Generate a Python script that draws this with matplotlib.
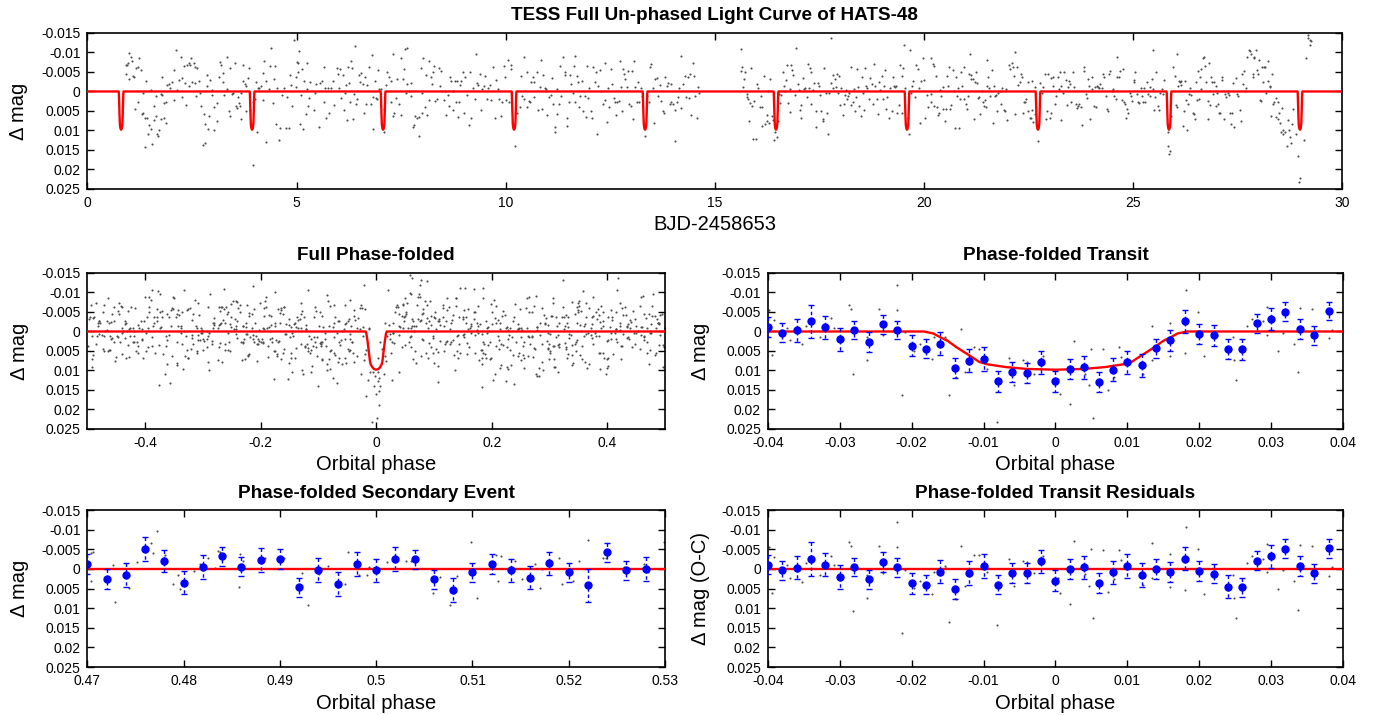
import matplotlib
matplotlib.use("Agg")
import matplotlib.pyplot as plt
from matplotlib.ticker import FuncFormatter, MultipleLocator
import numpy as np

plt.rcParams['font.family'] = ['Liberation Sans', 'DejaVu Sans']

T0 = 0.805
PERIOD = 3.1322

# ---- transit model, half curve (phase offset, depth in mag)
model_dphase = [0.0, 0.004, 0.007, 0.0095, 0.0106, 0.012, 0.0138, 0.015, 0.016, 0.017, 0.0183]
model_depth = [0.0098, 0.0096, 0.0091, 0.0084, 0.0078, 0.0061, 0.0040, 0.0024, 0.0015, 0.0005, 0.0]

# ---- TESS light curve (BJD-2458653, delta mag in mmag)
lc_a = [(0.99,-9.9),(1.04,-8.8),(1.07,-7.8),(0.92,-6.7),(0.95,-6.7),(0.97,-7.4),(1.24,-8.7),(1.17,-5.9),(1.20,-6.2),(1.28,-5.6),
        (0.93,-4.6),(1.00,-3.3),(1.10,-4.0),(1.12,-3.8),(1.40,-2.7),(1.32,0.3),(1.52,-0.3),(1.21,2.6),(1.13,4.4),(1.30,5.8),
        (1.34,5.6),(1.38,6.8),(1.43,6.9),(1.48,8.5),(1.52,9.7),(1.45,11.0),(1.38,14.3),(1.55,13.5),(1.60,3.8),(1.63,6.2),
        (1.59,7.3),(1.65,1.1),(1.67,10.8),(1.71,9.8),(1.69,11.4),(1.75,0.7),(1.79,0.9),(1.77,7.1),(1.83,2.9),(1.84,6.7),
        (1.87,8.0),(1.89,2.6),(1.78,-3.7),(1.91,-1.7),(1.94,-2.0),(1.97,-1.0),(2.02,-2.4),(2.11,-10.7),(2.08,-5.4),(2.13,-0.3),
        (2.06,2.1),(2.18,-2.9),(2.24,-8.8),(2.27,-3.5),(2.30,-6.6),(2.26,1.5),(2.36,3.5),(2.34,-2.2),(2.39,-6.8),(2.42,-7.4),
        (2.48,-8.5),(2.54,-7.2),(2.46,-6.8),(2.56,-6.4),(2.63,-5.9),(2.43,-1.5),(2.50,-2.5),(2.58,-2.2),(2.66,-2.6),(2.69,0.4),
        (2.60,1.2),(2.72,3.8),(2.78,5.8),(2.80,8.4),(2.76,13.7),(2.82,13.1),(2.89,9.7),(2.90,6.2),(2.86,-1.5),(2.87,-4.2),
        (2.94,-2.9),(2.97,0.9),(2.99,-0.5),(3.03,9.8),(3.02,4.1),(3.09,3.0),(3.10,7.7),(3.15,-3.8),(3.18,-7.6),(3.20,-6.8),
        (3.23,-2.3),(3.25,-4.8),(3.27,0.9),(3.33,-0.7),(3.34,-8.8),(3.39,5.1),(3.40,6.2),(3.42,-6.0),(3.45,0.7),(3.48,0.5),
        (3.53,-7.3),(3.55,3.7),(3.57,4.3),(3.60,1.5),(3.63,2.9),(3.64,3.8),(3.66,0.3),(3.68,7.1),(3.71,-6.9),(3.73,-2.6),
        (3.77,-1.9),(3.80,-1.4),(3.79,4.9),(3.84,-3.4),(3.86,-5.9),(3.88,4.8),(3.96,2.6),(3.95,18.9),(4.01,2.0),(4.06,10.5),
        (4.03,-2.3),(4.08,-1.0),(4.11,-0.8),(4.14,-1.5),(4.19,-4.7),(4.23,-7.9),(4.19,2.2),(4.27,-2.6),(4.27,12.9),(4.34,-0.6),
        (4.39,-11.1),(4.37,-6.6),(4.43,3.0),(4.47,-3.2),(4.49,-6.6),(4.51,8.4),(4.54,-1.0),(4.57,12.5),(4.61,9.4),(4.66,0.9),
        (4.71,-1.0),(4.74,9.4),(4.78,1.5),(4.82,9.4),(4.85,-4.3),(4.87,-1.7),(4.90,3.7),(4.95,-13.2),(5.00,-7.6),(5.03,-7.2)]
lc_b = [(5.06,-10.3),(4.98,-3.8),(5.03,-4.9),(5.14,-5.7),(5.26,-7.3),(4.98,-1.2),(5.10,0.9),(5.17,-2.7),(5.24,-0.6),(5.30,1.7),
        (5.32,-2.4),(5.27,3.7),(5.22,5.7),(5.09,8.3),(5.15,9.5),(5.42,4.8),(5.43,0.3),(5.47,-1.9),(5.53,9.2),(5.57,-2.1),
        (5.61,-2.7),(5.65,-6.3),(5.65,2.6),(5.69,-0.8),(5.71,6.7),(5.78,5.4),(5.75,-0.9),(5.83,-0.8),(5.88,-2.7),(5.89,3.4),
        (5.96,-6.0),(6.01,-0.9),(6.05,-5.7),(6.07,1.7),(5.99,-4.6),(6.11,-4.3),(6.13,4.8),(6.16,0.3),(6.19,-1.7),(6.21,7.4),
        (6.23,-6.2),(6.25,-2.2),(6.27,2.6),(6.31,-7.9),(6.32,-6.0),(6.36,7.1),(6.37,0.7),(6.40,-11.7),(6.43,3.2),(6.45,2.0),
        (6.49,-4.3),(6.52,-2.3),(6.55,-4.7),(6.58,-1.9),(6.61,5.6),(6.64,-3.6),(6.66,3.2),(6.69,-1.6),(6.74,-6.2),(6.77,3.2),
        (6.80,-9.3),(6.82,9.5),(6.84,1.4),(6.87,-2.7),(6.90,1.8),(6.93,2.0),(6.95,-5.6),(6.98,-0.6),(7.03,-0.6),(7.08,10.5),
        (7.10,4.5),(7.14,-1.6),(7.17,-4.9),(7.22,-3.8),(7.25,2.7),(7.27,-2.6),(7.30,-9.7),(7.31,6.3),(7.34,5.6),(7.38,1.7),
        (7.41,-3.2),(7.44,3.2),(7.49,6.0),(7.50,-8.5),(7.54,-3.3),(7.57,-5.7),(7.60,-10.9),(7.65,-11.2),(7.62,0.3),(7.63,-1.8),
        (7.68,-0.2),(7.73,1.1),(7.74,-2.1),(7.78,9.2),(7.80,8.7),(7.84,6.2),(7.87,6.7),(7.92,6.5),(7.94,11.5),(7.97,-6.0),
        (8.00,0.3),(8.01,5.6),(8.03,-8.7),(8.06,4.1),(8.10,-4.3),(8.13,6.0),(8.16,2.2),(8.17,-7.9),(8.21,-3.8),(8.24,-1.9),
        (8.26,-4.9),(8.29,-6.6),(8.32,2.4),(8.37,1.9),(8.40,-6.0),(8.43,-1.5),(8.46,-5.3),(8.49,-0.2),(8.52,2.1),(8.56,0.0),
        (8.58,6.0),(8.61,0.9),(8.64,3.6),(8.67,-3.6),(8.70,-2.7),(8.73,-0.2),(8.75,4.8),(8.78,-2.7),(8.81,2.6),(8.84,-2.6),
        (8.86,6.5),(8.89,2.8),(8.91,-1.7),(8.94,-2.6),(8.97,-4.9),(9.00,5.6),(9.04,-3.6),(9.08,0.9),(9.12,8.5),(9.15,-5.1),
        (9.18,6.9),(9.23,-1.0),(9.26,2.0),(9.30,-9.6),(9.32,-2.2),(9.35,-1.7),(9.39,-4.4),(9.40,4.7),(9.43,-0.6),(9.48,-1.5),
        (9.51,-4.0),(9.56,2.0),(9.59,-1.0),(9.63,-1.7),(9.66,2.2),(9.70,-6.2),(9.74,6.9),(9.78,-2.9),(9.82,-0.6),(9.85,2.0),
        (9.88,6.2),(9.91,2.6),(9.95,-6.6),(9.98,-3.6),(10.01,2.2),(10.06,-8.0),(10.07,2.6)]
lc_c = [(10.12,-6.8),(10.14,-5.7),(10.22,13.9),(10.28,5.4),(10.34,4.1),(10.36,-4.0),(10.39,1.1),(10.43,-8.9),(10.45,2.0),(10.50,3.9),
        (10.52,-5.1),(10.55,2.4),(10.58,2.8),(10.61,-2.3),(10.65,-3.6),(10.68,1.5),(10.69,-2.3),(10.74,-5.1),(10.77,4.7),(10.81,-1.2),
        (10.84,-8.1),(10.87,4.5),(10.90,-4.3),(10.93,-1.0),(10.97,-0.6),(11.00,6.0),(11.03,1.4),(11.09,0.9),(11.12,-3.4),(11.14,3.1),
        (11.17,9.1),(11.19,10.5),(11.22,-0.6),(11.24,5.8),(11.28,3.2),(11.30,-6.5),(11.33,1.1),(11.38,-8.9),(11.41,-4.3),(11.43,-4.9),
        (11.46,6.7),(11.46,8.8),(11.51,2.6),(11.54,-4.3),(11.57,-1.9),(11.60,0.5),(11.63,-6.6),(11.65,-9.1),(11.67,2.6),(11.70,-4.0),
        (11.73,-2.3),(11.76,3.9),(11.79,1.1),(11.83,-2.6),(11.86,5.1),(11.89,1.1),(11.92,6.5),(11.95,-6.6),(11.97,1.7),(12.00,-1.0),
        (12.03,5.1),(12.07,6.9),(12.10,-6.2),(12.13,-2.3),(12.16,-4.9),(12.19,10.8),(12.22,-1.5),(12.26,-5.5),(12.29,-0.2),(12.34,3.2),
        (12.37,-7.4),(12.38,2.2),(12.42,7.9),(12.45,-1.0),(12.48,4.1),(12.51,-5.7),(12.54,-1.9),(12.58,1.7),(12.61,2.6),(12.64,6.0),
        (12.67,2.8),(12.70,2.4),(12.73,-7.7),(12.75,-1.2),(12.78,5.1),(12.80,-5.7),(12.83,-4.4),(12.86,-3.2),(12.90,-1.2),(12.93,-5.3),
        (12.96,3.2),(12.99,3.7),(13.01,-5.3),(13.04,7.1),(13.07,-7.7),(13.10,-1.2),(13.13,2.6),(13.17,-2.3),(13.20,2.6),(13.23,-0.9),
        (13.26,1.1),(13.33,11.4),(13.39,1.1),(13.42,2.6),(13.45,-6.2),(13.48,-7.0),(13.52,-1.0),(13.55,8.2),(13.56,-3.2),(13.61,-3.4),
        (13.64,1.1),(13.68,-1.7),(13.72,2.4),(13.77,5.0),(13.79,5.6),(13.82,-3.6),(13.85,-1.5),(13.88,-2.1),(13.92,3.2),(13.95,2.6),
        (13.96,-1.9),(14.01,3.1),(14.04,12.6),(14.06,4.8),(14.09,2.8),(14.12,1.4),(14.15,-0.9),(14.19,4.3),(14.20,-9.0),(14.25,-1.9),
        (14.28,-4.0),(14.31,1.4),(14.35,-3.8),(14.38,1.7),(14.41,-4.6),(14.44,6.0),(14.47,-7.2),(14.51,-4.0),(14.54,1.1),(14.57,6.8),
        (14.60,-1.2),(14.63,0.3)]
lc_d = [(15.64,-10.9),(15.62,-5.3),(15.65,-6.2),(15.68,-1.2),(15.70,-3.2),(15.73,-4.9),(15.76,0.7),(15.78,1.4),(15.80,2.0),(15.82,7.5),
        (15.85,3.0),(15.86,-5.9),(15.88,3.7),(15.91,12.2),(15.94,2.4),(15.99,12.2),(16.02,-1.9),(16.04,-1.0),(16.08,3.9),(16.10,1.1),
        (16.12,8.8),(16.14,3.9),(16.17,-4.0),(16.20,8.4),(16.24,6.0),(16.26,7.7),(16.28,-0.2),(16.30,8.2),(16.32,-3.2),(16.36,6.2),
        (16.40,7.4),(16.42,12.5),(16.45,10.5),(16.48,11.8),(16.52,7.5),(16.54,0.7),(16.56,3.0),(16.59,0.9),(16.63,-5.0),(16.66,-1.5),
        (16.67,-0.2),(16.71,-2.9),(16.74,-6.8),(16.75,3.0),(16.79,-0.6),(16.80,5.2),(16.83,-6.8),(16.85,-5.5),(16.88,-4.3),(16.91,0.9),
        (16.95,-11.1),(16.98,-1.9),(17.01,-0.4),(17.04,4.8),(17.06,6.7),(17.07,3.5),(17.11,-3.4),(17.14,-0.6),(17.17,-1.0),(17.20,1.4),
        (17.22,-7.0),(17.25,-0.8),(17.28,-5.9),(17.30,3.2),(17.31,-5.0),(17.34,-0.3),(17.38,-2.1),(17.41,5.0),(17.43,9.2),(17.46,-2.1),
        (17.49,-1.5),(17.52,0.9),(17.55,5.0),(17.58,7.1),(17.60,7.7),(17.62,-6.0),(17.65,0.5),(17.68,5.4),(17.71,10.9),(17.74,0.5),
        (17.78,-13.7),(17.79,-2.1),(17.82,-4.3),(17.84,-0.9),(17.87,-3.3),(17.90,-1.2),(17.92,-4.6),(17.95,0.3),(17.98,-4.0),(18.00,3.5),
        (18.03,-0.9),(18.06,6.0),(18.08,3.2),(18.11,0.9),(18.14,-0.3),(18.16,2.0),(18.19,1.1),(18.22,0.3),(18.25,3.4),(18.27,-6.2),
        (18.30,2.6),(18.33,-0.6),(18.35,5.0),(18.38,1.5),(18.41,-5.7),(18.43,-1.2),(18.46,3.7),(18.49,6.2),(18.51,-3.8),(18.54,0.3),
        (18.57,4.8),(18.59,-6.0),(18.62,-1.5),(18.65,-1.0),(18.68,2.0),(18.72,-3.4),(18.75,-1.9),(18.78,3.2),(18.81,-7.0),(18.84,-1.5),
        (18.88,2.0),(18.91,5.8),(18.94,-2.3),(18.96,-0.3),(18.99,-4.0),(19.02,2.0),(19.05,-1.5),(19.08,-5.5),(19.10,4.5),(19.13,1.4),
        (19.16,6.8),(19.19,-1.0),(19.23,5.1),(19.26,-3.6),(19.29,-1.4),(19.31,-1.2),(19.34,-1.4),(19.37,5.4),(19.40,3.4),(19.43,-6.8),
        (19.47,5.4),(19.48,-4.0),(19.51,-6.0),(19.53,-12.0),(19.56,-1.0),(19.61,6.7),(19.64,10.9),(19.66,-10.6),(19.69,0.3),(19.72,-1.5),
        (19.75,-2.7),(19.78,1.4),(19.82,-6.8),(19.85,-5.7),(19.88,-1.0),(19.91,8.2),(19.94,-2.6),(19.98,-8.7),(20.01,-2.9),(20.04,6.8),
        (20.07,0.9),(20.10,3.9)]
lc_e = [(20.18,-8.7),(20.22,-7.0),(20.25,-6.6),(20.17,0.7),(20.18,2.8),(20.25,3.7),(20.28,-4.0),(20.31,3.9),(20.34,6.0),(20.37,5.4),
        (20.39,-0.3),(20.42,1.1),(20.46,4.5),(20.47,-1.2),(20.50,7.7),(20.53,4.5),(20.55,-4.0),(20.58,-1.5),(20.61,-6.3),(20.63,4.5),
        (20.66,3.4),(20.69,-5.5),(20.71,-0.2),(20.74,9.4),(20.77,-3.6),(20.79,1.1),(20.82,-1.0),(20.85,9.4),(20.87,2.0),(20.90,-5.1),
        (20.92,-1.5),(20.95,-6.2),(20.97,2.0),(21.00,3.2),(21.03,4.5),(21.05,1.1),(21.08,-4.4),(21.10,-9.7),(21.12,-3.2),(21.14,-4.3),
        (21.17,-3.2),(21.19,7.1),(21.22,-2.3),(21.25,-4.9),(21.28,-2.1),(21.30,1.7),(21.33,1.4),(21.35,5.8),(21.38,-0.2),(21.41,2.6),
        (21.44,3.7),(21.46,2.2),(21.49,3.9),(21.51,-8.0),(21.52,-1.5),(21.54,-3.6),(21.56,-1.0),(21.59,1.1),(21.62,-5.5),(21.65,8.1),
        (21.67,-1.5),(21.70,1.1),(21.73,0.9),(21.76,5.1),(21.78,0.5),(21.81,-0.2),(21.84,3.2),(21.87,-0.9),(21.91,4.8),(21.94,5.1),
        (21.97,-0.6),(22.00,7.4),(22.03,-6.8),(22.07,-5.7),(22.10,-7.2),(22.13,-6.3),(22.16,-4.0),(22.18,-10.2),(22.19,5.8),(22.23,-6.3),
        (22.26,-1.7),(22.29,-2.3),(22.32,-4.4),(22.34,-3.8),(22.37,5.4),(22.40,2.8),(22.43,2.6),(22.45,2.0),(22.48,5.0),(22.50,-2.3),
        (22.53,6.8),(22.56,6.8),(22.58,-2.6),(22.59,4.8),(22.61,7.9),(22.66,-1.2),(22.67,5.8),(22.74,12.8),(22.78,-2.1),(22.82,0.3),
        (22.86,-1.2),(22.89,-4.6),(22.93,7.1),(22.94,5.1),(22.98,-4.6),(23.01,6.8),(23.04,5.4),(23.05,-3.4),(23.09,-3.6),(23.10,-1.5),
        (23.13,3.2),(23.17,1.1),(23.20,-3.8),(23.23,-0.6),(23.26,-4.9),(23.28,-1.5),(23.29,7.4),(23.33,0.5),(23.36,-4.9),(23.39,-2.9),
        (23.42,3.4),(23.44,-1.2),(23.47,-2.6),(23.50,-1.9),(23.53,2.6),(23.56,-5.1),(23.60,-1.2),(23.63,3.1),(23.66,4.3),(23.69,3.7),
        (23.72,3.2),(23.76,3.9),(23.79,8.5),(23.82,-6.3),(23.84,-5.3),(23.87,0.7),(23.90,1.7),(23.93,-3.2),(23.96,-1.5),(23.98,7.1),
        (24.01,-3.8),(24.03,-0.6),(24.06,3.7),(24.09,-1.2),(24.12,3.9),(24.14,-1.5),(24.17,-1.2),(24.20,-1.0),(24.22,-1.9),(24.25,-0.9),
        (24.28,-4.6),(24.31,-3.6),(24.35,1.1),(24.38,4.5),(24.41,5.1),(24.43,-4.4),(24.46,-5.3),(24.49,-0.2),(24.52,-0.6),(24.55,1.1),
        (24.59,2.0),(24.62,-3.6),(24.63,-8.9),(24.66,-3.6),(24.70,-5.3),(24.73,2.2),(24.76,-5.7),(24.78,2.6),(24.81,3.2),(24.84,6.8),
        (24.86,4.5),(24.89,5.6),(24.92,0.3),(24.95,1.1),(24.97,2.4),(25.02,-2.3),(25.03,-2.9),(25.06,-5.0),(25.10,0.7),(25.13,2.8)]
lc_f = [(25.14,3.0),(25.19,-0.9),(25.21,1.1),(25.24,2.8),(25.27,-1.0),(25.30,2.6),(25.34,-2.3),(25.37,0.7),(25.40,-1.2),(25.41,1.1),
        (25.45,-3.2),(25.48,-0.6),(25.49,-10.6),(25.51,4.8),(25.54,1.4),(25.56,-4.9),(25.59,3.7),(25.62,4.8),(25.65,0.5),(25.69,-0.6),
        (25.72,0.7),(25.75,-2.9),(25.83,10.5),(25.85,13.9),(25.86,16.1),(25.88,15.2),(25.91,6.2),(25.97,-6.2),(26.00,-4.0),(26.02,3.4),
        (26.05,3.9),(26.05,-9.7),(26.08,-1.5),(26.10,-2.7),(26.13,-2.3),(26.15,-2.6),(26.16,-1.7),(26.20,8.8),(26.23,5.1),(26.24,-2.6),
        (26.28,2.2),(26.29,9.9),(26.31,3.1),(26.34,0.7),(26.37,-1.0),(26.40,0.9),(26.44,5.4),(26.45,5.8),(26.48,7.1),(26.51,-2.3),
        (26.53,2.2),(26.55,-5.3),(26.58,2.0),(26.61,-3.6),(26.63,-0.6),(26.64,-5.7),(26.68,-8.5),(26.69,-8.9),(26.72,-6.6),(26.75,-2.3),
        (26.79,2.4),(26.80,7.1),(26.82,-7.2),(26.85,3.4),(26.87,-3.6),(26.90,-2.3),(26.91,0.7),(26.95,-2.3),(26.98,3.7),(26.99,-1.5),
        (27.01,0.3),(27.04,3.2),(27.07,5.4),(27.09,5.4),(27.12,-3.8),(27.14,-2.9),(27.19,7.1),(27.20,0.7),(27.23,1.4),(27.27,0.3),
        (27.30,0.9),(27.33,5.4),(27.34,8.4),(27.38,5.4),(27.39,-2.1),(27.42,9.1),(27.46,-3.4),(27.49,0.7),(27.52,1.1),(27.55,4.8),
        (27.58,7.5),(27.60,-4.6),(27.63,-1.9),(27.65,-5.3),(27.68,-0.2),(27.71,-0.9),(27.74,-8.9),(27.78,-10.6),(27.81,-10.3),(27.82,-9.6),
        (27.86,-4.4),(27.87,-3.6),(27.89,-8.9),(27.90,-8.5),(27.95,-10.6),(27.97,-5.5),(28.00,-4.6),(28.01,-8.0),(28.03,2.2),(28.06,2.4),
        (28.08,-6.3),(28.11,-2.3),(28.14,-6.3),(28.16,-6.2),(28.19,0.3),(28.22,-7.7),(28.24,-2.7),(28.27,-1.5),(28.29,-1.2),(28.32,-4.4),
        (28.30,6.2),(28.35,3.2),(28.38,2.6),(28.41,6.5),(28.43,1.7),(28.46,2.6),(28.48,7.1),(28.49,5.4),(28.52,8.2),(28.54,10.3),
        (28.56,4.3),(28.59,9.9),(28.60,10.8),(28.64,10.5),(28.68,13.9),(28.70,7.4),(28.73,9.9),(28.76,11.8),(28.78,13.3),(28.81,8.4),
        (28.84,4.5),(28.91,10.9),(28.94,16.5),(28.97,23.3),(29.00,22.2),(29.08,12.5),(29.15,-8.5),(29.18,-14.4),(29.19,-13.7),(29.23,-12.0),
        (29.24,-13.2),(29.27,-13.0)]

# ---- phase-folded transit window: unbinned points (phase, mmag)
tr_pts = [(-0.0398,-5.6),(-0.0395,6.1),(-0.0391,-3.0),(-0.0373,-0.9),(-0.037,2.3),(-0.0352,3.3),(-0.0347,-1.5),(-0.0327,1.5),
          (-0.0312,-3.4),(-0.0308,-0.9),(-0.0287,-6.9),(-0.0284,-5.8),(-0.0281,10.8),(-0.0262,7.4),(-0.0262,1.5),(-0.0245,-5.8),
          (-0.024,1.0),(-0.022,-12.0),(-0.022,-5.6),(-0.0214,16.4),(-0.0209,0.2),(-0.0197,4.9),(-0.0188,3.2),(-0.0172,7.0),
          (-0.0169,1.5),(-0.0154,1.5),(-0.0152,2.0),(-0.0148,16.4),(-0.0139,11.7),(-0.0132,-0.7),(-0.0126,10.4),(-0.0113,4.0),
          (-0.0107,4.4),(-0.0095,9.6),(-0.0081,23.2),(-0.0064,6.7),(-0.0058,13.8),(-0.0045,7.4),(-0.0039,7.8),(-0.003,10.8),
          (-0.0017,6.4),(0.0004,12.1),(0.0007,16.0),(0.002,18.7),(0.0026,2.5),(0.0041,10.8),(0.0047,13.8),(0.005,4.4),
          (0.0052,22.1),(0.0066,4.4),(0.0073,15.1),(0.0081,11.7),(0.0088,4.0),(0.0091,6.6),(0.0119,8.3),(0.0122,10.8),
          (0.0134,-1.5),(0.0135,7.4),(0.0159,-2.1),(0.0159,6.4),(0.018,5.5),(0.0182,-10.7),(0.0199,-5.1),(0.0207,6.4),
          (0.0247,1.5),(0.0249,7.4),(0.0251,12.4),(0.0267,-1.5),(0.0273,-3.2),(0.0289,-2.6),(0.0294,0.9),(0.0295,-6.4),
          (0.031,5.0),(0.0317,0.4),(0.0332,3.2),(0.034,-6.0),(0.0357,-5.8),(0.0338,10.4),(0.0378,-4.9),(0.038,1.7),(0.0385,-0.4)]

# binned transit (phase, mmag, error mmag)
tr_bin_phase = [-0.040,-0.038,-0.036,-0.034,-0.032,-0.030,-0.028,-0.026,-0.024,-0.022,-0.020,-0.018,-0.016,-0.014,
                -0.012,-0.010,-0.008,-0.006,-0.004,-0.002,0.000,0.002,0.004,0.006,0.008,0.010,0.012,0.014,0.016,
                0.018,0.020,0.022,0.024,0.026,0.028,0.030,0.032,0.034,0.036,0.038]
tr_bin_mag = [-1.1,0.3,-0.3,-2.6,-1.1,2.0,-0.4,2.7,-1.8,-0.4,3.6,4.4,3.1,9.4,7.5,7.1,12.8,10.4,10.7,7.9,12.8,9.7,
              9.2,13.0,9.8,7.9,8.7,4.3,2.3,-2.6,0.6,1.0,4.5,4.6,-2.1,-3.2,-5.1,-0.7,1.0,-5.2]
tr_bin_err = [2.5,2.4,3.0,4.3,3.0,3.0,2.4,2.5,2.5,2.4,2.6,2.5,2.9,2.5,3.0,3.0,2.6,2.5,2.6,3.0,2.6,2.6,3.0,2.6,
              3.0,3.0,3.0,2.5,2.6,3.0,2.6,2.6,2.5,2.6,2.4,2.9,2.4,2.6,2.4,2.3]

# ---- secondary event window
se_pts = [(0.4704,-4.0),(0.4704,3.2),(0.4706,-4.4),(0.4729,8.5),(0.4727,-1.0),(0.4743,4.9),(0.4751,-1.7),(0.4766,-6.5),
          (0.4768,-4.0),(0.4772,-9.7),(0.4781,-3.6),(0.4789,3.9),(0.4794,1.5),(0.4796,5.2),(0.4811,0.5),(0.4817,-1.2),
          (0.4825,-2.9),(0.4833,-0.2),(0.4836,-4.6),(0.4838,-4.2),(0.4857,4.5),(0.4859,-3.8),(0.4862,-2.0),(0.4884,-2.7),
          (0.4904,-2.9),(0.4923,1.1),(0.4929,9.2),(0.4941,1.3),(0.495,-0.8),(0.4968,3.9),(0.4971,-4.2),(0.4982,1.5),
          (0.4992,-0.4),(0.499,1.5),(0.5011,-1.7),(0.5017,-3.1),(0.5031,-2.0),(0.5036,-2.0),(0.5059,6.2),(0.5066,2.0),
          (0.5077,9.2),(0.5084,1.9),(0.5098,-6.9),(0.5105,7.5),(0.5124,-3.6),(0.5127,3.2),(0.513,-3.4),(0.5144,-2.0),
          (0.5151,2.7),(0.5165,-1.3),(0.517,4.9),(0.5172,0.0),(0.519,-2.9),(0.5193,3.9),(0.5204,3.2),(0.5211,-1.9),
          (0.522,-7.4),(0.5222,4.2),(0.5236,-2.7),(0.5239,-2.9),(0.5257,-0.6),(0.526,1.1),(0.5278,-1.2),(0.5282,0.7),(0.5299,-6.9)]
se_bin_phase = [0.470,0.472,0.474,0.476,0.478,0.480,0.482,0.484,0.486,0.488,0.490,0.492,0.494,0.496,0.498,
                0.500,0.502,0.504,0.506,0.508,0.510,0.512,0.514,0.516,0.518,0.520,0.522,0.524,0.526,0.528]
se_bin_mag = [-1.3,2.5,1.5,-5.1,-2.0,3.5,-0.5,-3.2,-0.6,-2.2,-2.5,4.7,0.3,3.8,-1.2,0.4,-2.5,-2.4,2.7,5.4,
              0.9,-1.3,0.4,2.2,-1.4,0.9,4.2,-4.2,0.4,0.0]
se_bin_err = [2.5,2.5,3.0,3.0,2.9,3.0,3.1,2.4,2.5,3.0,2.5,2.5,3.0,3.0,3.0,3.0,3.0,2.5,2.5,3.0,2.5,2.5,3.0,3.0,
              3.0,2.5,4.2,2.4,2.5,3.0]

# ---- transit residuals (O-C)
res_pts = [(-0.0398,-5.6),(-0.0395,6.1),(-0.0391,-3.0),(-0.0373,-0.9),(-0.037,2.3),(-0.0352,3.3),(-0.0347,-1.5),(-0.0327,1.5),
           (-0.0312,-3.4),(-0.0308,-0.9),(-0.0287,-6.9),(-0.0284,-5.8),(-0.0281,10.8),(-0.0262,7.4),(-0.0262,1.5),(-0.0245,-5.8),
           (-0.024,1.0),(-0.022,-12.0),(-0.022,-5.6),(-0.0214,16.4),(-0.0209,0.2),(-0.0197,4.9),(-0.0188,3.2),(-0.0172,6.5),
           (-0.0169,0.7),(-0.0154,-0.7),(-0.0152,-0.3),(-0.0148,13.6),(-0.0139,7.6),(-0.0132,-5.9),(-0.0126,4.4),(-0.0113,-3.5),
           (-0.0107,-3.6),(-0.0095,0.9),(-0.0081,14.2),(-0.0064,-2.6),(-0.0058,4.4),(-0.0045,-2.1),(-0.0039,-1.8),(-0.003,1.1),
           (-0.0017,-3.4),(0.0004,2.3),(0.0007,6.2),(0.002,8.9),(0.0026,-7.2),(0.0041,1.3),(0.0047,4.3),(0.005,-5.1),
           (0.0052,12.6),(0.0066,-4.9),(0.0073,5.9),(0.0081,2.6),(0.0088,-4.9),(0.0091,-2.2),(0.0119,1.4),(0.0122,4.2),
           (0.0134,-6.6),(0.0135,2.4),(0.0159,-3.8),(0.0159,4.7),(0.018,5.4),(0.0182,-10.7),(0.0199,-5.1),(0.0207,6.4),
           (0.0247,1.5),(0.0249,7.4),(0.0251,12.4),(0.0267,-1.5),(0.0273,-3.2),(0.0289,-2.6),(0.0294,0.9),(0.0295,-6.4),
           (0.031,5.0),(0.0317,0.4),(0.0332,3.2),(0.034,-6.0),(0.0357,-5.8),(0.0338,10.4),(0.0378,-4.9),(0.038,1.7),(0.0385,-0.4)]
res_bin_mag = [-1.1,0.4,-0.3,-2.6,-1.1,2.0,-0.5,2.7,-1.7,-0.4,3.7,4.0,0.7,5.1,1.0,-0.8,4.0,1.1,1.0,-1.9,3.0,0.1,
               -0.4,3.6,0.9,-0.8,1.5,0.1,0.8,-2.6,0.5,1.2,4.5,4.7,-2.1,-3.2,-5.1,-0.7,1.1,-5.2]
res_bin_err = [2.5,2.4,3.0,4.3,3.0,3.0,2.4,2.5,2.5,2.4,2.6,2.5,2.9,2.5,3.0,3.0,2.5,2.5,2.5,3.0,2.6,2.5,3.0,2.5,
               3.0,3.0,3.0,2.5,2.5,3.0,2.6,2.5,3.0,2.4,2.4,2.9,2.4,2.5,2.4,2.3]

# ---------------------------------------------------------------------------
lc = np.array(lc_a + lc_b + lc_c + lc_d + lc_e + lc_f)
lc_t, lc_m = lc[:, 0], lc[:, 1] / 1000.0
lc_phase = ((lc_t - T0) / PERIOD + 0.5) % 1.0 - 0.5

half_p = np.array(model_dphase)
half_m = np.array(model_depth)
dip_phase = np.concatenate([-half_p[::-1], half_p[1:]])
dip_mag = np.concatenate([half_m[::-1], half_m[1:]])

GRAY = '#4d4d4d'
RED = '#ff0000'
BLUE = '#0000ff'


def tick_fmt(v, pos):
    s = f"{round(v, 6) + 0.0:g}"
    return "0" if s in ("-0", "0") else s


def style(ax, xlim, xstep, title, xlabel, ylabel, ylab_x):
    ax.set_xlim(*xlim)
    ax.set_ylim(0.025, -0.015)
    ax.xaxis.set_major_locator(MultipleLocator(xstep))
    ax.yaxis.set_major_locator(MultipleLocator(0.005))
    ax.xaxis.set_major_formatter(FuncFormatter(tick_fmt))
    ax.yaxis.set_major_formatter(FuncFormatter(tick_fmt))
    ax.tick_params(direction='in', top=True, right=True, length=5, width=1,
                   labelsize=10, pad=5)
    for sp in ax.spines.values():
        sp.set_linewidth(1.2)
    ax.set_title(title, fontsize=13.6, fontweight='bold', pad=9)
    ax.set_xlabel(xlabel, fontsize=14.5, labelpad=4)
    ax.set_ylabel(ylabel, fontsize=14.5)
    ax.yaxis.set_label_coords(ylab_x, 0.5)


def binned(ax, x, y, e):
    eb = ax.errorbar(x, np.array(y) / 1000.0, yerr=np.array(e) / 1000.0, fmt='o', color=BLUE,
                     ms=5, capsize=2.2, elinewidth=1, capthick=1, zorder=4)
    eb[2][0].set_linestyle((0, (2.5, 2)))


fig = plt.figure(figsize=(13.75, 7.15), dpi=100)

# top: full un-phased light curve
ax1 = fig.add_axes([0.0636, 0.7357, 0.9124, 0.2182])
ax1.scatter(lc_t, lc_m, s=2.3, color=GRAY, linewidths=0, zorder=2)
mt, mm = [0.0], [0.0]
for n in range(10):
    mt.extend(T0 + n * PERIOD + dip_phase * PERIOD)
    mm.extend(dip_mag)
mt.append(30.0)
mm.append(0.0)
ax1.plot(mt, mm, color=RED, lw=1.7, zorder=3)
style(ax1, (0, 30), 5, "TESS Full Un-phased Light Curve of HATS-48", "BJD-2458653", "Δ mag", -0.047)

# middle left: full phase-folded
ax2 = fig.add_axes([0.0636, 0.400, 0.420, 0.2182])
ax2.scatter(lc_phase, lc_m, s=2.3, color=GRAY, linewidths=0, zorder=2)
ax2.plot(np.concatenate([[-0.5], dip_phase, [0.5]]), np.concatenate([[0], dip_mag, [0]]),
         color=RED, lw=1.7, zorder=3)
style(ax2, (-0.5, 0.5), 0.2, "Full Phase-folded", "Orbital phase", "Δ mag", -0.101)

# middle right: phase-folded transit
ax3 = fig.add_axes([0.5585, 0.400, 0.4182, 0.2182])
tp = np.array(tr_pts)
ax3.scatter(tp[:, 0], tp[:, 1] / 1000.0, s=2.3, color=GRAY, linewidths=0, zorder=2)
ax3.plot(np.concatenate([[-0.04], dip_phase, [0.04]]), np.concatenate([[0], dip_mag, [0]]),
         color=RED, lw=1.7, zorder=3)
binned(ax3, tr_bin_phase, tr_bin_mag, tr_bin_err)
style(ax3, (-0.04, 0.04), 0.01, "Phase-folded Transit", "Orbital phase", "Δ mag", -0.101)

# bottom left: secondary event
ax4 = fig.add_axes([0.0636, 0.0671, 0.420, 0.2196])
sp_ = np.array(se_pts)
ax4.scatter(sp_[:, 0], sp_[:, 1] / 1000.0, s=2.3, color=GRAY, linewidths=0, zorder=2)
ax4.plot([0.47, 0.53], [0, 0], color=RED, lw=1.7, zorder=3)
binned(ax4, se_bin_phase, se_bin_mag, se_bin_err)
style(ax4, (0.47, 0.53), 0.01, "Phase-folded Secondary Event", "Orbital phase", "Δ mag", -0.101)

# bottom right: residuals
ax5 = fig.add_axes([0.5585, 0.0671, 0.4182, 0.2196])
rp = np.array(res_pts)
ax5.scatter(rp[:, 0], rp[:, 1] / 1000.0, s=2.3, color=GRAY, linewidths=0, zorder=2)
ax5.plot([-0.04, 0.04], [0, 0], color=RED, lw=1.7, zorder=3)
binned(ax5, tr_bin_phase, res_bin_mag, res_bin_err)
style(ax5, (-0.04, 0.04), 0.01, "Phase-folded Transit Residuals", "Orbital phase", "Δ mag (O-C)", -0.101)

fig.savefig("out.png", dpi=100)
